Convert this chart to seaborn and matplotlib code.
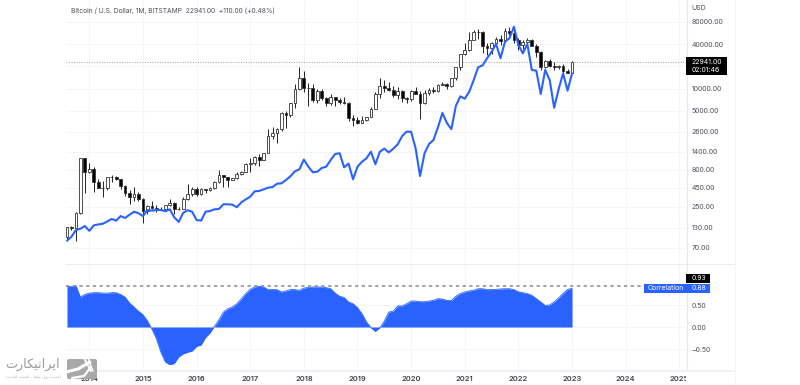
import matplotlib
matplotlib.use("Agg")
import matplotlib.pyplot as plt
from matplotlib.patches import Rectangle, FancyBboxPatch
from matplotlib.lines import Line2D
from matplotlib.ticker import FixedLocator, FixedFormatter, NullLocator
from matplotlib.transforms import Affine2D, Bbox, TransformedBbox
import numpy as np
import pandas as pd
import seaborn as sns

# ---------- data: monthly candles from 2013-08 to 2023-01 ----------
opens = [98,133,128,205,1130,
 735,805,550,455,447,627,640,590,480,388,338,378,
 320,217,254,244,236,230,264,283,230,236,316,377,
 430,368,437,416,448,536,672,624,573,608,700,745,
 963,968,1190,1080,1350,2300,2480,2875,4700,4340,6450,9900,
 13800,10100,10300,6900,9240,7490,6400,7730,7020,6625,6300,4000,
 3700,3440,3810,4100,5270,8560,10800,10080,9600,8300,9150,7550,
 7170,9350,8540,6420,8630,9450,9140,11340,11650,10780,13800,19700,
 28990,33100,45200,58800,57700,37300,35000,41500,47100,43800,61300,57000,
 46200,38500,43200,45500,37700,31800,19900,23300,20000,19400,20500,17200,
 16500]
highs = [135,137,210,1163,1160,
 980,860,600,560,640,680,660,600,500,420,460,400,
 325,265,300,265,245,268,315,290,245,335,505,470,
 465,447,440,470,555,780,680,625,615,735,770,985,
 1150,1210,1290,1360,2790,2995,2910,4750,4980,6470,11400,19600,
 17100,11780,11700,9750,10000,7780,8500,7740,7400,7680,6540,4400,
 4070,4200,4130,5600,9080,13800,13200,12320,10930,10350,9530,7750,
 9560,10500,9180,9460,10070,10380,11420,12470,12080,14100,19900,29300,
 41900,58300,61800,64900,59500,41300,42400,50500,52900,67000,69000,59000,
 47900,45800,48200,47400,40000,31900,24700,25200,22800,21000,21500,18400,
 23300]
lows = [88,122,87,200,385,
 720,400,450,340,420,540,570,440,350,275,300,300,
 152,200,235,215,225,222,255,200,225,235,305,350,
 350,365,385,410,440,530,460,465,570,600,680,740,
 730,920,890,1060,1345,2080,1830,2670,2950,4110,5500,9700,
 9000,5880,6500,6430,7000,5750,6070,5880,6100,6200,3650,3120,
 3350,3370,3670,4090,5320,7440,9100,9350,7700,7300,6520,6410,
 6850,8450,3850,6150,8120,8830,8980,11100,9820,10380,13200,17600,
 28100,32400,45000,47000,30000,28800,29300,37300,39600,43300,53500,42000,
 32900,34300,37200,37700,26700,17600,18900,19600,18100,18200,15500,16300,
 16500]
closes = [133,128,205,1130,735,
 805,550,455,447,627,640,590,480,388,338,378,320,
 217,254,244,236,230,264,283,230,236,316,377,430,
 368,437,416,448,536,672,624,573,608,700,745,963,
 968,1190,1080,1350,2300,2480,2875,4700,4340,6450,9900,13800,
 10100,10300,6900,9240,7490,6400,7730,7020,6625,6300,4000,3700,
 3440,3810,4100,5270,8560,10800,10080,9600,8300,9150,7550,7170,
 9350,8540,6420,8630,9450,9140,11340,11650,10780,13800,19700,28990,
 33100,45200,58800,57700,37300,35000,41500,47100,43800,61300,57000,46200,
 38500,43200,45500,37700,31800,19900,23300,20000,19400,20500,17200,16500,
 22941]
overlay = [86.6,98,121,126,137,
 118,140,144,147,158,171,162,187,176,195,214,204,
 187,226,221,226,226,217,231,180,156,207,224,214,
 165,162,214,219,231,233,270,270,267,246,287,315,
 342,405,409,431,453,463,513,520,576,647,757,805,
 1090,874,733,747,838,874,1076,1298,1330,857,960,589,
 874,1018,1134,1395,942,1395,1532,1365,1532,1756,2278,2605,
 2605,1550,653,1330,1772,2010,2990,4670,3415,2815,5810,7840,
 7295,9075,13080,19450,20700,25760,31600,40250,25760,43300,48100,69000,
 39000,30100,40250,17900,17500,8450,17900,13080,5510,9790,16100,9370,
 16100]
correlation = [.92,.92,.94,.68,.74,
 .77,.78,.78,.77,.77,.78,.78,.74,.68,.545,.455,.36,
 .28,.14,-.045,-.265,-.57,-.795,-.855,-.83,-.68,-.61,-.575,-.545,
 -.44,-.41,-.24,-.135,.015,.165,.34,.415,.455,.53,.64,.76,
 .855,.91,.925,.91,.85,.85,.85,.795,.82,.85,.85,.835,
 .885,.90,.91,.91,.91,.895,.87,.77,.70,.67,.57,.53,
 .44,.30,.115,-.015,-.10,-.015,.135,.34,.36,.48,.48,.53,
 .59,.59,.575,.575,.59,.605,.645,.635,.605,.60,.70,.76,
 .795,.82,.835,.87,.87,.85,.85,.855,.865,.87,.87,.85,
 .80,.78,.76,.72,.645,.57,.49,.50,.57,.66,.76,.855,
 .88]
dates = pd.date_range("2013-08-01", "2023-01-01", freq="MS")
year_labels = ["2014","2015","2016","2017","2018","2019","2020","2021","2022","2023","2024","2025"]
price_ticks = [80000,40000,20000,10000,5000,2600,1400,800,450,250,130,70]
price_labels = ["80000.00","40000.00","","10000.00","5000.00","2600.00","1400.00","800.00","450.00","250.00","130.00","70.00"]
corr_ticks = [0.5, 0.0, -0.5]
corr_labels = ["0.50","0.00","\u22120.50"]
reference_level = 0.93
title = "Bitcoin / U.S. Dollar, 1M, BITSTAMP  22941.00  +110.00 (+0.48%)"

# ---------- frame ----------
W, H = 800, 385
BLUE, GRID, EDGE, TXT = "#2962FF", "#f3f5fa", "#e6e8ee", "#4a4e5a"
sns.set_theme(style="white")
plt.rcParams["font.family"] = ["Inter", "DejaVu Sans"]
fig = plt.figure(figsize=(W/100, H/100), dpi=100, facecolor="white")
px = Affine2D().scale(1/W, -1/H).translate(0, 1) + fig.transFigure
ax = fig.add_axes([66/W, 1-263/H, 620/W, 263/H])
ax2 = fig.add_axes([66/W, 15/H, 620/W, 106/H], sharex=ax)

i = np.arange(len(dates))
frame = pd.DataFrame(dict(month=i, open=opens, high=highs, low=lows, close=closes,
                          overlay=overlay, correlation=correlation))
up = frame.close >= frame.open

# ---------- price panel ----------
ax.set_yscale("log")
ax.set_xlim(-0.22, 138.5)
ax.set_ylim(43.2, 158900)
ax.vlines(frame.month, frame.low, frame.high, color="#222222", lw=0.7, zorder=3)
ax.bar(frame.month, (frame.close-frame.open).abs(), bottom=frame[["open","close"]].min(axis=1),
       width=0.62, color=np.where(up, "white", "black"), edgecolor="#333333", linewidth=0.6, zorder=4)
sns.lineplot(data=frame, x="month", y="overlay", ax=ax, color=BLUE, lw=1.5,
             estimator=None, sort=False, zorder=5, legend=False)
ax.axhline(closes[-1], color="#9a9da6", lw=0.7, ls=(0, (1, 1.6)), zorder=2)

# ---------- correlation panel ----------
ax2.set_ylim(-0.977, 1.432)
ax2.fill_between(frame.month, 0, frame.correlation, color=BLUE, lw=0, zorder=3)
sns.lineplot(data=frame, x="month", y="correlation", ax=ax2, color=BLUE, lw=0.6,
             estimator=None, sort=False, zorder=3, legend=False)
ax2.hlines(reference_level, -0.22, 128.7, color="#868993", lw=1.1, ls=(0, (2.1, 2.3)), zorder=4)

# ---------- axes ----------
year_pos = i[dates.month == 1].tolist() + [125, 137]
for a in (ax, ax2):
    a.set_xlabel(""); a.set_ylabel("")
    a.xaxis.set_major_locator(FixedLocator(year_pos))
    a.xaxis.set_minor_locator(NullLocator())
    a.yaxis.set_minor_locator(NullLocator())
    a.yaxis.tick_right()
    a.grid(True, color=GRID, lw=0.8, zorder=0)
    a.set_axisbelow(True)
    a.tick_params(axis="both", length=0, labelsize=5.0, labelcolor=TXT, pad=4)
    a.patch.set_alpha(0)
    for s in a.spines.values():
        s.set_visible(False)
ax.yaxis.set_major_locator(FixedLocator(price_ticks))
ax.yaxis.set_major_formatter(FixedFormatter(price_labels))
ax2.yaxis.set_major_locator(FixedLocator(corr_ticks))
ax2.yaxis.set_major_formatter(FixedFormatter(corr_labels))
ax.tick_params(axis="x", labelbottom=False)
ax2.xaxis.set_major_formatter(FixedFormatter(year_labels))
ax2.tick_params(axis="x", pad=4.5, labelsize=5.4, labelcolor="#3c404c")
clip = TransformedBbox(Bbox([[0, 0], [686/W, 1]]), fig.transFigure)
for lab in ax2.get_xticklabels():
    lab.set_fontweight("semibold")
    lab.set_clip_box(clip)
    lab.set_clip_on(True)

# panel rules
for xs, ys, c, w in [((686.5, 686.5), (0, 370), EDGE, 0.8), ((734.5, 734.5), (0, 385), GRID, 0.7),
                     ((66, 734), (263.5, 263.5), EDGE, 0.6), ((66, 734), (370.5, 370.5), "#eceef3", 1.2)]:
    fig.add_artist(Line2D(xs, ys, color=c, lw=w, transform=px))

def tag(x0, y0, x1, y1, color, texts):
    fig.add_artist(Rectangle((x0, y0), x1-x0, y1-y0, color=color, lw=0, transform=px, zorder=6))
    for tx, ty, s in texts:
        fig.text(tx, ty, s, color="white", fontsize=5.0, va="center", ha="left", transform=px, zorder=7)

fig.text(71, 11, title, color=TXT, fontsize=4.8, va="center", transform=px)
fig.text(691.5, 8, "USD", color=TXT, fontsize=5.0, va="center", transform=px)
tag(686, 57, 727, 75, "black", [(691.5, 62, "22941.00"), (691.5, 70.5, "02:01:46")])
tag(686, 274, 710, 283, "black", [(691.5, 278.5, "0.93")])
tag(686, 283.7, 710, 292.7, BLUE, [(691.5, 288.2, "0.88")])
tag(644.3, 283.7, 686, 292.7, BLUE, [(648, 288.2, "Correlation")])

# ---------- watermark ----------
wm = "#9c9c9c"
brand = "\uFE8D\uFBFE\uFEAE\uFE8D\uFEE7\uFBFF\uFB91\uFE8E\uFEAD\uFE95"[::-1]
motto = ("\uFE8D\uFEE3\uFEE8\uFBFF\uFE96 \uFB58\uFEEE\uFEDD \uFEB7\uFEE4\uFE8E \u060C "
         "\uFE8D\uFEE3\uFEE8\uFBFF\uFE96 \uFEE3\uFE8E\uFEB3\uFE96")[::-1]
fig.text(33, 364, brand, color=wm, fontsize=9.2, ha="center", va="center", transform=px,
         family="DejaVu Sans", zorder=8)
fig.text(33, 376.5, motto, color="#b5b5b5", fontsize=3.2, ha="center", va="center", transform=px,
         family="DejaVu Sans", zorder=8)
fig.add_artist(FancyBboxPatch((67, 359), 30, 20, boxstyle="round,pad=0,rounding_size=2",
                              fc="#a8a8a8", ec="none", transform=px, zorder=8))
for xs, ys, lw in [((66, 78, 90), (372, 369, 362), 2.2), ((72, 84, 91), (378, 376, 367), 1.6),
                   ((84, 91), (358, 371), 1.4), ((88, 93), (358, 371), 1.1)]:
    fig.add_artist(Line2D(xs, ys, color="white", lw=lw, transform=px, zorder=9))

fig.savefig("out.png", dpi=100, facecolor="white")
